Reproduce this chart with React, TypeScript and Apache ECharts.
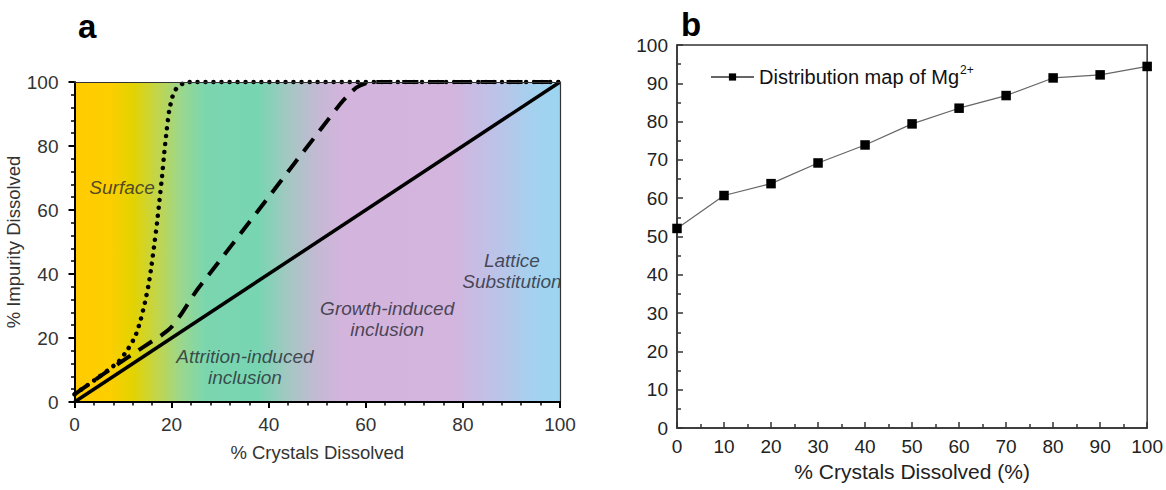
import React, { useEffect, useRef } from "react";
import * as echarts from "echarts";

// ---------- Panel a data ----------
const solidX = [0, 100];
const solidY = [0, 100];

const dashedX = [0, 6, 12, 16, 18, 20, 22, 25, 30, 35, 40, 45, 50, 55, 58, 60, 62, 100];
const dashedY = [2.4, 8.8, 15, 19, 21, 23.5, 27.5, 34.5, 44.3, 54.2, 64.1, 74, 83.8, 93.6, 98.2, 99.6, 100, 100];

const dottedX = [0, 5, 9, 11, 12.5, 13.5, 14.5, 15.3, 15.9, 16.5, 17, 17.5, 18, 18.5, 19, 19.5, 20.2, 21, 22.3, 24, 100];
const dottedY = [2.4, 7.8, 12.5, 16.5, 20.5, 25, 31, 37, 43, 50, 56, 63, 70, 78, 85, 91, 95.5, 98, 99.5, 100, 100];

const regionTexts = ["Surface", "Attrition-induced\ninclusion", "Growth-induced\ninclusion", "Lattice\nSubstitution"];
const regionX = [9.8, 35.1, 64.4, 90.1];
const regionY = [66.9, 10.8, 25.8, 40.8];

const axisTicksA = [0, 20, 40, 60, 80, 100];

// ---------- Panel b data ----------
const crystalsB = [0, 10, 20, 30, 40, 50, 60, 70, 80, 90, 100];
const mgB = [52.1, 60.7, 63.8, 69.2, 73.9, 79.4, 83.5, 86.8, 91.4, 92.2, 94.4];
const seriesBName = "Distribution map of Mg2+";

const FONT = "'Liberation Sans', Arial, Helvetica, sans-serif";

function pairs(xs: number[], ys: number[]) {
  return xs.map((x, i) => [x, ys[i]]);
}

export default function App() {
  const ref = useRef<HTMLDivElement>(null);

  useEffect(() => {
    if (!ref.current) return;
    const chart = echarts.init(ref.current, undefined, { renderer: "svg" });

    const bgGradient = new echarts.graphic.LinearGradient(0, 0, 1, 0, [
      { offset: 0, color: "#FFCB00" },
      { offset: 0.07, color: "#FECE00" },
      { offset: 0.12, color: "#E3D300" },
      { offset: 0.17, color: "#C2D54A" },
      { offset: 0.22, color: "#9AD78E" },
      { offset: 0.27, color: "#7BD6AF" },
      { offset: 0.38, color: "#78D5B2" },
      { offset: 0.44, color: "#A3C8C2" },
      { offset: 0.5, color: "#C4B9D4" },
      { offset: 0.55, color: "#D3B4DC" },
      { offset: 0.78, color: "#D3B5DE" },
      { offset: 0.87, color: "#BCC3E8" },
      { offset: 0.95, color: "#A3D2EF" },
      { offset: 1, color: "#9CD5F0" },
    ]);

    const axisA = (isX: boolean) => ({
      type: "value" as const,
      gridIndex: 0,
      min: 0,
      max: 100,
      interval: 20,
      z: 4,
      axisLine: { show: true, onZero: false, lineStyle: { color: "#000", width: 2 } },
      axisTick: { show: true, inside: false, length: 6, lineStyle: { color: "#000", width: 2 } },
      minorTick: { show: true, splitNumber: 5, length: 3.5, lineStyle: { color: "#000", width: 1.5 } },
      splitLine: { show: false },
      axisLabel: {
        fontSize: 19,
        color: "#333",
        fontFamily: FONT,
        margin: isX ? 13 : 16,
        formatter: (v: number) => (axisTicksA.includes(v) ? String(v) : ""),
      },
      name: isX ? "% Crystals Dissolved" : "% Impurity Dissolved",
      nameLocation: "middle" as const,
      nameGap: isX ? 41 : 33,
      nameTextStyle: { fontSize: 18.5, color: "#333", fontFamily: FONT },
    });

    const axisB = (isX: boolean) => ({
      type: "value" as const,
      gridIndex: 1,
      min: 0,
      max: 100,
      interval: 10,
      axisLine: { show: true, onZero: false, lineStyle: { color: "#333", width: 1.5 } },
      axisTick: { show: true, inside: true, length: 6, lineStyle: { color: "#333", width: 1.5 } },
      minorTick: { show: true, splitNumber: 2, length: 4, lineStyle: { color: "#333", width: 1.5 } },
      splitLine: { show: false },
      axisLabel: { fontSize: 19, color: "#222", fontFamily: FONT, margin: 9 },
      name: isX ? "% Crystals Dissolved (%)" : "",
      nameLocation: "middle" as const,
      nameGap: 30,
      nameTextStyle: { fontSize: 21, color: "#222", fontFamily: FONT },
    });

    const frameAxis = (pos: "top" | "right") => ({
      type: "value" as const,
      gridIndex: 0,
      min: 0,
      max: 100,
      position: pos,
      z: 4,
      axisLine: { show: true, onZero: false, lineStyle: { color: "#333", width: 1.2 } },
      axisTick: { show: false },
      axisLabel: { show: false },
      splitLine: { show: false },
    });

    const option: any = {
      animation: false,
      backgroundColor: "#fff",
      textStyle: { fontFamily: FONT },
      grid: [
        { left: 74.5, top: 82, width: 485.5, height: 320, containLabel: false },
        { left: 677, top: 45, width: 472, height: 383, containLabel: false, show: true, borderColor: "#333", borderWidth: 1.5, backgroundColor: "transparent" },
      ],
      xAxis: [axisA(true), axisB(true), frameAxis("top")],
      yAxis: [axisA(false), axisB(false), { ...frameAxis("right") }],
      legend: {
        data: [seriesBName],
        left: 705,
        top: 59,
        itemWidth: 43,
        itemHeight: 9,
        formatter: () => "Distribution map of Mg{sup|2+}",
        textStyle: {
          fontSize: 20,
          color: "#111",
          fontFamily: FONT,
          lineHeight: 26,
          rich: {
            sup: { fontSize: 12, lineHeight: 26, verticalAlign: "top", fontFamily: FONT, color: "#111", padding: [0, 0, 0, 1] },
          },
        },
      },
      graphic: [
        { type: "text", left: 78, top: 10, style: { text: "a", font: `bold 33px ${FONT}`, fill: "#000" } },
        { type: "text", left: 681, top: 8, style: { text: "b", font: `bold 33px ${FONT}`, fill: "#000" } },
      ],
      series: [
        {
          name: "bg",
          type: "line",
          xAxisIndex: 0,
          yAxisIndex: 0,
          data: [],
          silent: true,
          markArea: {
            silent: true,
            itemStyle: { color: bgGradient },
            data: [[{ xAxis: 0, yAxis: 0 }, { xAxis: 100, yAxis: 100 }]],
          },
        },
        {
          name: "solid",
          type: "line",
          xAxisIndex: 0,
          yAxisIndex: 0,
          data: pairs(solidX, solidY),
          symbol: "none",
          clip: false,
          lineStyle: { color: "#000", width: 3.5 },
        },
        {
          name: "dashed",
          type: "line",
          xAxisIndex: 0,
          yAxisIndex: 0,
          data: pairs(dashedX, dashedY),
          symbol: "none",
          clip: false,
          smooth: 0.2,
          lineStyle: { color: "#000", width: 4, type: [16, 10] },
        },
        {
          name: "dotted",
          type: "line",
          xAxisIndex: 0,
          yAxisIndex: 0,
          data: pairs(dottedX, dottedY),
          symbol: "none",
          clip: false,
          smooth: 0.2,
          lineStyle: { color: "#000", width: 4.5, type: [0.01, 8], cap: "round" },
        },
        {
          name: "regions",
          type: "scatter",
          xAxisIndex: 0,
          yAxisIndex: 0,
          symbolSize: 0,
          silent: true,
          data: regionTexts.map((t, i) => [regionX[i], regionY[i], t]),
          label: {
            show: true,
            position: "inside",
            formatter: (p: any) => p.data[2],
            fontStyle: "italic",
            fontSize: 19,
            lineHeight: 21,
            color: "#262630",
            fontFamily: FONT,
            align: "center",
          },
        },
        {
          name: seriesBName,
          type: "line",
          xAxisIndex: 1,
          yAxisIndex: 1,
          data: pairs(crystalsB, mgB),
          symbol: "rect",
          symbolSize: 9.5,
          clip: false,
          itemStyle: { color: "#000" },
          lineStyle: { color: "#666", width: 1.2 },
        },
      ],
    };

    chart.setOption(option);
    return () => chart.dispose();
  }, []);

  return (
    <div
      ref={ref}
      style={{ position: "absolute", left: 0, top: 0, width: 1166, height: 490, background: "#fff" }}
    />
  );
}
